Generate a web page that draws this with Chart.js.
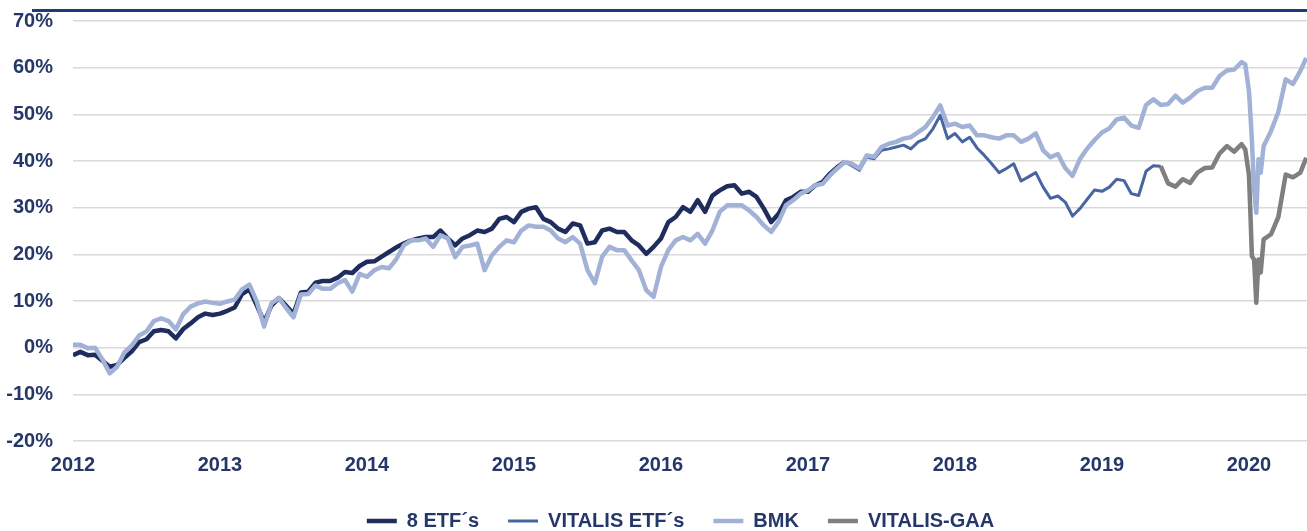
<!DOCTYPE html>
<html>
<head>
<meta charset="utf-8">
<title>8 ETF´s vs BMK</title>
<script src="https://cdn.jsdelivr.net/npm/chart.js@4/dist/chart.umd.min.js"></script>
<style>
    html, body { margin: 0; padding: 0; background: #fff; }
    #wrap { position: relative; width: 1307px; height: 531px; }
    #topRule { position: absolute; left: 32px; right: 0; top: 9px; height: 3px; background: #1f3a78; }
</style>
</head>
<body>
<div id="wrap">
    <div id="topRule"></div>
    <canvas id="perfChart" width="1307" height="531"></canvas>
</div>
<script>
// --- 1. DATA (cumulative performance in %) ---
const dates = [
    2012.00, 2012.05, 2012.10, 2012.15, 2012.20, 2012.25, 2012.30, 2012.35, 2012.40, 2012.45,
    2012.50, 2012.55, 2012.60, 2012.65, 2012.70, 2012.75, 2012.80, 2012.85, 2012.90, 2012.95,
    2013.00, 2013.05, 2013.10, 2013.15, 2013.20, 2013.25, 2013.30, 2013.35, 2013.40, 2013.45,
    2013.50, 2013.55, 2013.60, 2013.65, 2013.70, 2013.75, 2013.80, 2013.85, 2013.90, 2013.95,
    2014.00, 2014.05, 2014.10, 2014.15, 2014.20, 2014.25, 2014.30, 2014.35, 2014.40, 2014.45,
    2014.50, 2014.55, 2014.60, 2014.65, 2014.70, 2014.75, 2014.80, 2014.85, 2014.90, 2014.95,
    2015.00, 2015.05, 2015.10, 2015.15, 2015.20, 2015.25, 2015.30, 2015.35, 2015.40, 2015.45,
    2015.50, 2015.55, 2015.60, 2015.65, 2015.70, 2015.75, 2015.80, 2015.85, 2015.90, 2015.95,
    2016.00, 2016.05, 2016.10, 2016.15, 2016.20, 2016.25, 2016.30, 2016.35, 2016.40, 2016.45,
    2016.50, 2016.55, 2016.60, 2016.65, 2016.70, 2016.75, 2016.80, 2016.85, 2016.90, 2016.95,
    2017.00, 2017.05, 2017.10, 2017.15, 2017.20, 2017.25, 2017.30, 2017.35, 2017.40, 2017.45,
    2017.50, 2017.55, 2017.60, 2017.65, 2017.70, 2017.75, 2017.80, 2017.85, 2017.90, 2017.95,
    2018.00, 2018.05, 2018.10, 2018.15, 2018.20, 2018.25, 2018.30, 2018.35, 2018.40, 2018.45,
    2018.50, 2018.55, 2018.60, 2018.65, 2018.70, 2018.75, 2018.80, 2018.85, 2018.90, 2018.95,
    2019.00, 2019.05, 2019.10, 2019.15, 2019.20, 2019.25, 2019.30, 2019.35, 2019.40, 2019.45,
    2019.50, 2019.55, 2019.60, 2019.65, 2019.70, 2019.75, 2019.80, 2019.85, 2019.90, 2019.95,
    2019.975, 2020.00, 2020.01, 2020.02, 2020.035, 2020.05, 2020.065, 2020.08, 2020.10, 2020.15,
    2020.20, 2020.25, 2020.30, 2020.35, 2020.39
];

const etf8 = [
    -1.6, -0.9, -1.6, -1.5, -2.8, -4.1, -3.7, -2.2, -0.8, 1.2,
    1.8, 3.5, 3.8, 3.5, 2.0, 4.0, 5.2, 6.5, 7.3, 7.0,
    7.3, 7.9, 8.6, 11.5, 12.5, 9.1, 5.5, 9.0, 10.6, 9.0,
    7.2, 11.8, 12.0, 13.9, 14.3, 14.3, 15.0, 16.2, 16.0, 17.5,
    18.4, 18.5, 19.5, 20.5, 21.5, 22.3, 23.0, 23.4, 23.7, 23.7,
    25.1, 23.4, 21.9, 23.4, 24.1, 25.1, 24.8, 25.5, 27.6, 28.0,
    26.9, 29.1, 29.8, 30.1, 27.6, 26.9, 25.5, 24.8, 26.6, 26.2,
    22.3, 22.6, 25.1, 25.5, 24.8, 24.8, 23.0, 21.9, 20.1, 21.6,
    23.4, 26.9, 28.0, 30.1, 29.1, 31.6, 29.1, 32.6, 33.7, 34.6,
    34.8, 33.0, 33.4, 32.3, 29.8, 26.9, 28.7, 31.6, 32.3, 33.4,
    33.4, 34.8, 35.5, 37.3, 38.7, 39.8, null, null, null, null,
    null, null, null, null, null, null, null, null, null, null,
    null, null, null, null, null, null, null, null, null, null,
    null, null, null, null, null, null, null, null, null, null,
    null, null, null, null, null, null, null, null, null, null,
    null, null, null, null, null, null, null, null, null, null,
    null, null, null, null, null, null, null, null, null, null,
    null, null, null, null, null
];

const vitalisEtf = [
    null, null, null, null, null, null, null, null, null, null,
    null, null, null, null, null, null, null, null, null, null,
    null, null, null, null, null, null, null, null, null, null,
    null, null, null, null, null, null, null, null, null, null,
    null, null, null, null, null, null, null, null, null, null,
    null, null, null, null, null, null, null, null, null, null,
    null, null, null, null, null, null, null, null, null, null,
    null, null, null, null, null, null, null, null, null, null,
    null, null, null, null, null, null, null, null, null, null,
    null, null, null, null, null, null, null, null, null, null,
    null, null, null, null, null, 39.8, 39.0, 38.0, 40.8, 40.5,
    42.3, 42.6, 43.0, 43.4, 42.6, 44.1, 44.8, 46.9, 49.8, 44.8,
    45.9, 44.1, 45.1, 42.8, 41.2, 39.4, 37.5, 38.4, 39.4, 35.7,
    36.6, 37.5, 34.4, 32.0, 32.5, 31.2, 28.2, 29.8, 31.8, 33.8,
    33.5, 34.4, 36.1, 35.8, 33.0, 32.6, 37.8, 39.0, 38.9, null,
    null, null, null, null, null, null, null, null, null, null,
    null, null, null, null, null, null, null, null, null, null,
    null, null, null, null, null
];

const bmk = [
    0.6, 0.6, -0.1, 0.0, -2.5, -5.5, -4.1, -1.0, 0.5, 2.6,
    3.5, 5.7, 6.3, 5.7, 3.9, 7.2, 8.8, 9.5, 9.9, 9.6,
    9.4, 9.9, 10.3, 12.5, 13.5, 9.9, 4.5, 9.5, 10.6, 8.5,
    6.5, 11.4, 11.5, 13.3, 12.6, 12.6, 13.8, 14.5, 12.0, 15.8,
    15.2, 16.6, 17.3, 17.0, 19.0, 21.9, 23.0, 23.0, 23.4, 21.6,
    24.1, 23.4, 19.4, 21.6, 21.9, 22.3, 16.6, 19.8, 21.6, 23.0,
    22.6, 25.1, 26.2, 25.9, 25.9, 25.1, 23.4, 22.6, 23.7, 22.3,
    16.6, 13.8, 19.5, 21.6, 20.9, 20.9, 18.7, 16.6, 12.3, 10.9,
    17.3, 20.9, 23.0, 23.7, 23.0, 24.4, 22.3, 25.1, 29.1, 30.5,
    30.5, 30.5, 29.4, 28.0, 26.2, 24.8, 27.0, 30.5, 31.6, 33.0,
    33.7, 34.8, 35.1, 36.9, 38.4, 39.8, 39.4, 38.4, 41.2, 40.9,
    43.0, 43.7, 44.1, 44.8, 45.1, 46.2, 47.3, 49.4, 51.9, 47.6,
    48.0, 47.3, 47.6, 45.5, 45.5, 45.1, 44.8, 45.5, 45.5, 44.1,
    44.8, 45.9, 42.3, 40.8, 41.5, 38.5, 36.8, 40.4, 42.7, 44.5,
    46.1, 47.0, 48.9, 49.3, 47.6, 47.1, 52.0, 53.2, 52.0, 52.2,
    54.0, 52.5, 53.6, 55.0, 55.7, 55.7, 58.2, 59.4, 59.6, 61.2,
    60.7, 55.0, 50.0, 44.6, 33.9, 28.9, 40.4, 37.5, 43.2, 46.4,
    50.5, 57.5, 56.5, 59.3, 62.1
];

const vitalisGaa = [
    null, null, null, null, null, null, null, null, null, null,
    null, null, null, null, null, null, null, null, null, null,
    null, null, null, null, null, null, null, null, null, null,
    null, null, null, null, null, null, null, null, null, null,
    null, null, null, null, null, null, null, null, null, null,
    null, null, null, null, null, null, null, null, null, null,
    null, null, null, null, null, null, null, null, null, null,
    null, null, null, null, null, null, null, null, null, null,
    null, null, null, null, null, null, null, null, null, null,
    null, null, null, null, null, null, null, null, null, null,
    null, null, null, null, null, null, null, null, null, null,
    null, null, null, null, null, null, null, null, null, null,
    null, null, null, null, null, null, null, null, null, null,
    null, null, null, null, null, null, null, null, null, null,
    null, null, null, null, null, null, null, null, 38.9, 35.2,
    34.5, 36.1, 35.3, 37.5, 38.5, 38.6, 41.6, 43.2, 42.0, 43.6,
    42.5, 37.0, 28.9, 19.6, 18.9, 9.6, 18.9, 16.1, 23.2, 24.3,
    28.0, 37.1, 36.5, 37.5, 40.7
];

const yearTicks = [2012, 2013, 2014, 2015, 2016, 2017, 2018, 2019, 2020];
const xMin = 2012, xMax = 2020.395;
const yMin = -20, yMax = 70, yStep = 10;

// --- 2. STYLE ---
const NAVY_TEXT = '#253769';
const FONT = "'Liberation Sans', Arial, sans-serif";
const LEGEND_PAD = 29;
const LEGEND_SHIFT = 27;   // legend sits a bit right of the canvas centre

function toPoints(values) {
    return dates.map((d, i) => ({ x: d, y: values[i] }));
}

function makeSeries(label, values, color, width, order) {
    return {
        label: label,
        data: toPoints(values),
        borderColor: color,
        backgroundColor: color,
        borderWidth: width,
        borderJoinStyle: 'round',
        pointRadius: 0,
        tension: 0,
        spanGaps: false,
        order: order
    };
}

// nudge the centred legend to the right after layout
const legendShift = {
    id: 'legendShift',
    afterLayout(chart) {
        chart.legend.left += LEGEND_SHIFT;
        chart.legend.right += LEGEND_SHIFT;
    }
};

// --- 3. CHART ---
const ctx = document.getElementById('perfChart').getContext('2d');
const chart = new Chart(ctx, {
    type: 'line',
    data: {
        datasets: [
            makeSeries('8 ETF´s', etf8, '#1f2d5e', 4.5, 3),
            makeSeries('VITALIS ETF´s', vitalisEtf, '#4765a1', 3, 2),
            makeSeries('BMK', bmk, '#a2b2d6', 4.5, 1),
            makeSeries('VITALIS-GAA', vitalisGaa, '#7f7f7f', 4.5, 0)
        ]
    },
    plugins: [legendShift],
    options: {
        responsive: false,
        animation: false,
        layout: { padding: { top: 21, left: 0, right: 0, bottom: 0 } },
        plugins: {
            tooltip: { enabled: false },
            legend: {
                position: 'bottom',
                maxHeight: 20 + LEGEND_PAD,
                labels: {
                    usePointStyle: true,
                    pointStyle: 'line',
                    pointStyleWidth: 30,
                    padding: LEGEND_PAD,
                    color: NAVY_TEXT,
                    font: { family: FONT, size: 20, weight: 'bold' },
                    sort: (a, b) => a.datasetIndex - b.datasetIndex
                }
            }
        },
        scales: {
            x: {
                type: 'linear',
                min: xMin,
                max: xMax,
                afterBuildTicks: scale => { scale.ticks = yearTicks.map(v => ({ value: v })); },
                afterFit: scale => {
                    scale.height = 531 - (20 + LEGEND_PAD) - 441;
                    scale.paddingLeft = 0;
                    scale.paddingRight = 0;
                },
                grid: { display: false },
                border: { display: false },
                ticks: {
                    padding: 4,
                    color: NAVY_TEXT,
                    font: { family: FONT, size: 20, weight: 'bold' },
                    maxRotation: 0,
                    callback: v => String(v)
                }
            },
            y: {
                min: yMin,
                max: yMax,
                afterFit: scale => {
                    scale.width = 73;
                    scale.paddingTop = 0;
                    scale.paddingBottom = 0;
                },
                grid: { color: '#d9d9d9', lineWidth: 1.5, drawTicks: false },
                border: { display: false },
                ticks: {
                    stepSize: yStep,
                    padding: 20,
                    color: NAVY_TEXT,
                    font: { family: FONT, size: 20, weight: 'bold' },
                    callback: v => v + '%'
                }
            }
        }
    }
});
</script>
</body>
</html>
